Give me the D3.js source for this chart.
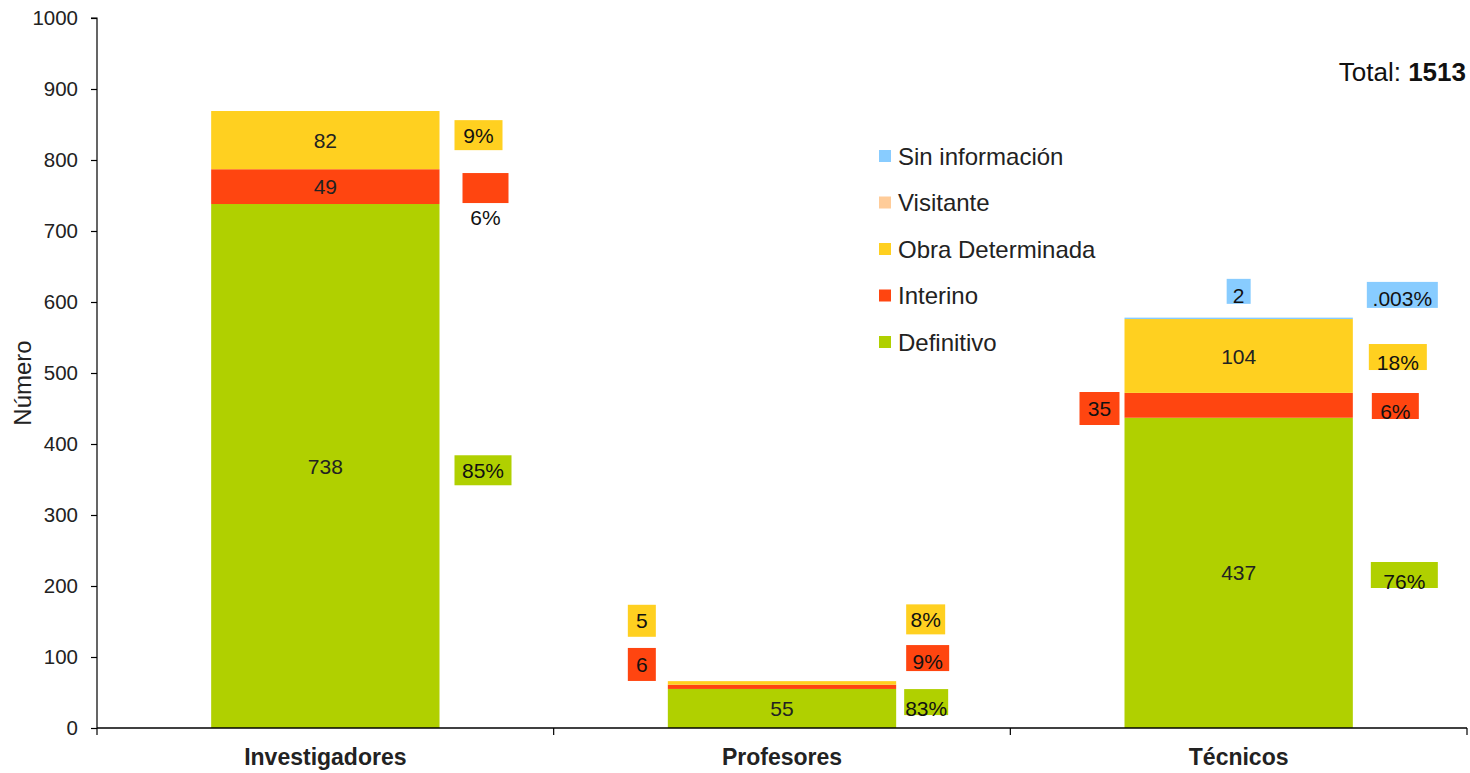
<!doctype html>
<html lang="es">
<head>
<meta charset="utf-8">
<title>Personal por tipo de contrato</title>
<script src="https://cdn.jsdelivr.net/npm/d3@7"></script>
<style>
  body { margin: 0; background: #fff; }
  svg { display: block; font-family: "Liberation Sans", Arial, sans-serif; }
</style>
</head>
<body>
<svg id="chart" width="1470" height="773"></svg>
<script>
// --- data ---
const categories = ["Investigadores", "Profesores", "Técnicos"];
const seriesNames = ["Definitivo", "Interino", "Obra Determinada", "Visitante", "Sin información"];
const definitivo = [738, 55, 437];
const interino = [49, 6, 35];
const obraDeterminada = [82, 5, 104];
const visitante = [0, 0, 0];
const sinInformacion = [0, 0, 2];
const pctDefinitivo = ["85%", "83%", "76%"];
const pctInterino = ["6%", "9%", "6%"];
const pctObra = ["9%", "8%", "18%"];
const pctSin = [null, null, ".003%"];
const yTicks = [0, 100, 200, 300, 400, 500, 600, 700, 800, 900, 1000];
const total = 1513;

const colors = {
  "Definitivo": "#b0d000",
  "Interino": "#ff4510",
  "Obra Determinada": "#ffd020",
  "Visitante": "#ffcc99",
  "Sin información": "#88ccff"
};

// callout placement (annotation layout, not data): y is the box centre in axis units
const callouts = [
  { cat: 0, s: "Obra Determinada", text: pctObra[0], side: "right", gap: 15, y: 835, w: 48 },
  { cat: 0, s: "Interino", text: pctInterino[0], side: "right", gap: 23, y: 760.5, w: 46, textDy: 29 },
  { cat: 0, s: "Definitivo", text: pctDefinitivo[0], side: "right", gap: 15, y: 363, w: 57 },
  { cat: 1, s: "Obra Determinada", text: String(obraDeterminada[1]), side: "left", gap: 12, y: 151, w: 28, h: 32 },
  { cat: 1, s: "Interino", text: String(interino[1]), side: "left", gap: 12, y: 89.5, w: 28, h: 33 },
  { cat: 1, s: "Obra Determinada", text: pctObra[1], side: "right", gap: 10, y: 153, w: 39 },
  { cat: 1, s: "Interino", text: pctInterino[1], side: "right", gap: 10, y: 98.5, w: 43, h: 26, textDy: 3 },
  { cat: 1, s: "Definitivo", text: pctDefinitivo[1], side: "right", gap: 8, y: 36.5, w: 44, h: 26, textDy: 6 },
  { cat: 2, s: "Sin información", text: String(sinInformacion[2]), side: "top", gap: 0, y: 615, w: 24, h: 25, textDy: 4 },
  { cat: 2, s: "Sin información", text: pctSin[2], side: "right", gap: 14, y: 610, w: 71, h: 26, textDy: 4 },
  { cat: 2, s: "Obra Determinada", text: pctObra[2], side: "right", gap: 16, y: 522.5, w: 58, h: 26, textDy: 5 },
  { cat: 2, s: "Interino", text: String(interino[2]), side: "left", gap: 5, y: 450, w: 40, h: 33 },
  { cat: 2, s: "Interino", text: pctInterino[2], side: "right", gap: 19, y: 453.5, w: 47, h: 26, textDy: 5 },
  { cat: 2, s: "Definitivo", text: pctDefinitivo[2], side: "right", gap: 18, y: 215.5, w: 67, h: 26, textDy: 6 }
];

// --- layout ---
const svg = d3.select("#chart");
const margin = { left: 97, right: 3, top: 18, bottom: 45 };
const W = 1470, H = 773;

const x = d3.scaleBand().domain(categories).range([margin.left, W - margin.right]);
const y = d3.scaleLinear().domain([0, 1000]).range([H - margin.bottom, margin.top]);
const barW = x.bandwidth() * 0.5;
const barX = c => x(c) + (x.bandwidth() - barW) / 2;

const table = categories.map((c, i) => ({
  cat: c,
  "Definitivo": definitivo[i],
  "Interino": interino[i],
  "Obra Determinada": obraDeterminada[i],
  "Visitante": visitante[i],
  "Sin información": sinInformacion[i]
}));
const stacked = d3.stack().keys(seriesNames)(table);

// bars
svg.append("g").selectAll("g")
  .data(stacked)
  .join("g")
  .attr("fill", d => colors[d.key])
  .selectAll("rect")
  .data(d => d.filter(p => p[1] > p[0]))
  .join("rect")
  .attr("x", d => barX(d.data.cat))
  .attr("width", barW)
  .attr("y", d => y(d[1]))
  .attr("height", d => y(d[0]) - y(d[1]));

// value labels inside bars (only segments tall enough)
const inside = [];
stacked.forEach(layer => layer.forEach(p => {
  const v = p[1] - p[0];
  if (y(p[0]) - y(p[1]) > 30) inside.push({ cat: p.data.cat, v, mid: (p[0] + p[1]) / 2 });
}));
svg.append("g").selectAll("text")
  .data(inside)
  .join("text")
  .attr("x", d => x(d.cat) + x.bandwidth() / 2)
  .attr("y", d => y(d.mid))
  .attr("dy", "0.36em")
  .attr("text-anchor", "middle")
  .attr("font-size", 21)
  .attr("fill", "#222")
  .text(d => d.v);

// axes
const yAxis = svg.append("g")
  .attr("transform", `translate(${margin.left},0)`)
  .call(d3.axisLeft(y).tickValues(yTicks).tickSize(6).tickPadding(13).tickFormat(d3.format("d")));
yAxis.selectAll("text").attr("font-size", 20.5).attr("fill", "#222").attr("font-family", "Liberation Sans, Arial, sans-serif");
yAxis.select(".domain").attr("d", `M-6,${y(1000)}H0V${y(0)}`);
yAxis.selectAll("line, path").attr("stroke", "#000").attr("stroke-width", 1.2);

const xAxis = svg.append("g")
  .attr("transform", `translate(0,${y(0)})`);
xAxis.append("line")
  .attr("x1", margin.left).attr("x2", W - margin.right)
  .attr("stroke", "#000").attr("stroke-width", 1.5);
const bounds = categories.map(c => x(c)).concat([x(categories[categories.length - 1]) + x.bandwidth()]);
xAxis.selectAll("line.tick")
  .data(bounds)
  .join("line")
  .attr("class", "tick")
  .attr("x1", d => d).attr("x2", d => d)
  .attr("y1", 0).attr("y2", 7)
  .attr("stroke", "#000").attr("stroke-width", 1.2);
xAxis.selectAll("text")
  .data(categories)
  .join("text")
  .attr("x", d => x(d) + x.bandwidth() / 2)
  .attr("y", 37)
  .attr("text-anchor", "middle")
  .attr("font-size", 23)
  .attr("font-weight", "bold")
  .attr("fill", "#222")
  .text(d => d);

// y title
svg.append("text")
  .attr("transform", `translate(31,${(y(0) + y(1000)) / 2 + 10}) rotate(-90)`)
  .attr("text-anchor", "middle")
  .attr("font-size", 24)
  .attr("fill", "#222")
  .text("Número");

// callout boxes
const cg = svg.append("g");
callouts.forEach(c => {
  const cat = categories[c.cat];
  const g = cg.append("g");
  const t = g.append("text")
    .attr("font-size", 21)
    .attr("fill", "#111")
    .attr("text-anchor", "middle")
    .text(c.text);
  const w = c.w;
  const h = c.h || 30;
  let bx;
  if (c.side === "right") bx = barX(cat) + barW + c.gap;
  else if (c.side === "left") bx = barX(cat) - c.gap - w;
  else bx = x(cat) + x.bandwidth() / 2 - w / 2;
  const by = y(c.y) - h / 2;
  g.insert("rect", "text")
    .attr("x", bx).attr("y", by)
    .attr("width", w).attr("height", h)
    .attr("fill", colors[c.s]);
  t.attr("x", bx + w / 2)
    .attr("y", y(c.y) + (c.textDy || 0))
    .attr("dy", "0.36em");
});

// legend
const legendItems = ["Sin información", "Visitante", "Obra Determinada", "Interino", "Definitivo"];
const lg = svg.append("g").attr("transform", "translate(879,156)");
lg.selectAll("g")
  .data(legendItems)
  .join("g")
  .attr("transform", (d, i) => `translate(0,${i * 46.5})`)
  .each(function (d) {
    const g = d3.select(this);
    g.append("rect").attr("x", 0).attr("y", -6).attr("width", 12).attr("height", 12).attr("fill", colors[d]);
    g.append("text").attr("x", 19).attr("dy", "0.36em").attr("font-size", 24).attr("fill", "#222").text(d);
  });

// total
const tt = svg.append("text")
  .attr("x", 1466).attr("y", 81)
  .attr("text-anchor", "end")
  .attr("font-size", 26)
  .attr("fill", "#111");
tt.append("tspan").text("Total: ");
tt.append("tspan").attr("font-weight", "bold").text(total);
</script>
</body>
</html>
